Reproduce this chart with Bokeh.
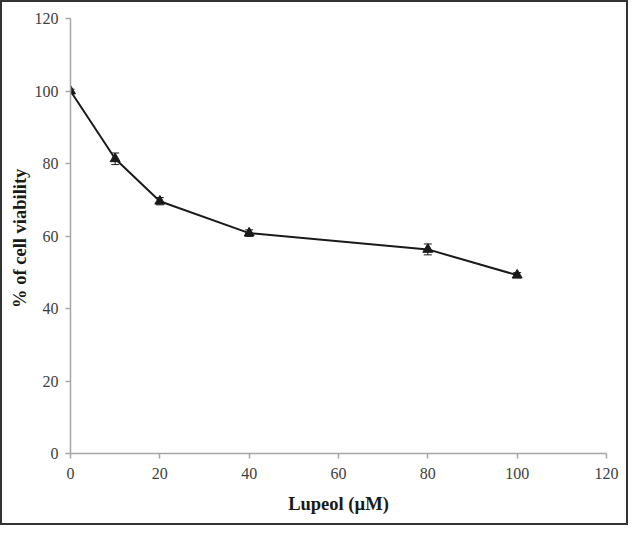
from bokeh.plotting import figure
from bokeh.models import Range1d, ColumnDataSource, Whisker, LinearAxis, FixedTicker
from bokeh.embed import file_html
from bokeh.resources import INLINE

dose = [0, 10, 20, 40, 80, 100]
viability = [100, 81.3, 69.6, 60.8, 56.3, 49.2]
err = [0.5, 1.6, 1.0, 0.9, 1.5, 0.7]
x_ticks = [0, 20, 40, 60, 80, 100, 120]
y_ticks = [0, 20, 40, 60, 80, 100, 120]

src = ColumnDataSource(dict(
    x=dose, y=viability,
    lo=[v - e for v, e in zip(viability, err)],
    hi=[v + e for v, e in zip(viability, err)],
))

p = figure(width=628, height=525, output_backend="svg", toolbar_location=None,
           x_range=Range1d(0, 120), y_range=Range1d(0, 120),
           x_axis_location=None, y_axis_location=None,
           min_border_left=68, min_border_right=24, min_border_top=16, min_border_bottom=74,
           styles={"border": "2px solid #333"})
p.outline_line_color = None
p.xgrid.visible = False
p.ygrid.visible = False

FONT = "Liberation Serif"

xa = LinearAxis(ticker=FixedTicker(ticks=x_ticks))
xa.axis_label = "Lupeol (µM)"
ya = LinearAxis(ticker=FixedTicker(ticks=y_ticks))
ya.axis_label = "% of cell  viability"
for ax in (xa, ya):
    ax.axis_line_color = "#a6a6a6"
    ax.axis_line_width = 1.5
    ax.major_tick_line_color = "#a6a6a6"
    ax.major_tick_line_width = 1.5
    ax.major_tick_in = 0
    ax.major_tick_out = 5
    ax.minor_tick_line_color = None
    ax.major_label_text_font = FONT
    ax.major_label_text_font_size = "16px"
    ax.major_label_text_color = "#404040"
    ax.axis_label_text_font = FONT
    ax.axis_label_text_font_size = "18.5px"
    ax.axis_label_text_font_style = "bold"
    ax.axis_label_text_color = "#1a1a1a"
xa.major_label_standoff = 9
xa.axis_label_standoff = 12
ya.major_label_standoff = 7
ya.axis_label_standoff = 2
p.add_layout(xa, "below")
p.add_layout(ya, "left")

p.line("x", "y", source=src, line_color="#1a1a1a", line_width=2)
w = Whisker(base="x", lower="lo", upper="hi", source=src, line_color="#1a1a1a", line_width=1)
w.upper_head.size = 8
w.lower_head.size = 8
w.upper_head.line_color = "#1a1a1a"
w.lower_head.line_color = "#1a1a1a"
p.add_layout(w)
p.scatter("x", "y", source=src, marker="triangle", size=10, fill_color="#1a1a1a",
          line_color="#1a1a1a")

open("out.html", "w").write(file_html(p, INLINE))
